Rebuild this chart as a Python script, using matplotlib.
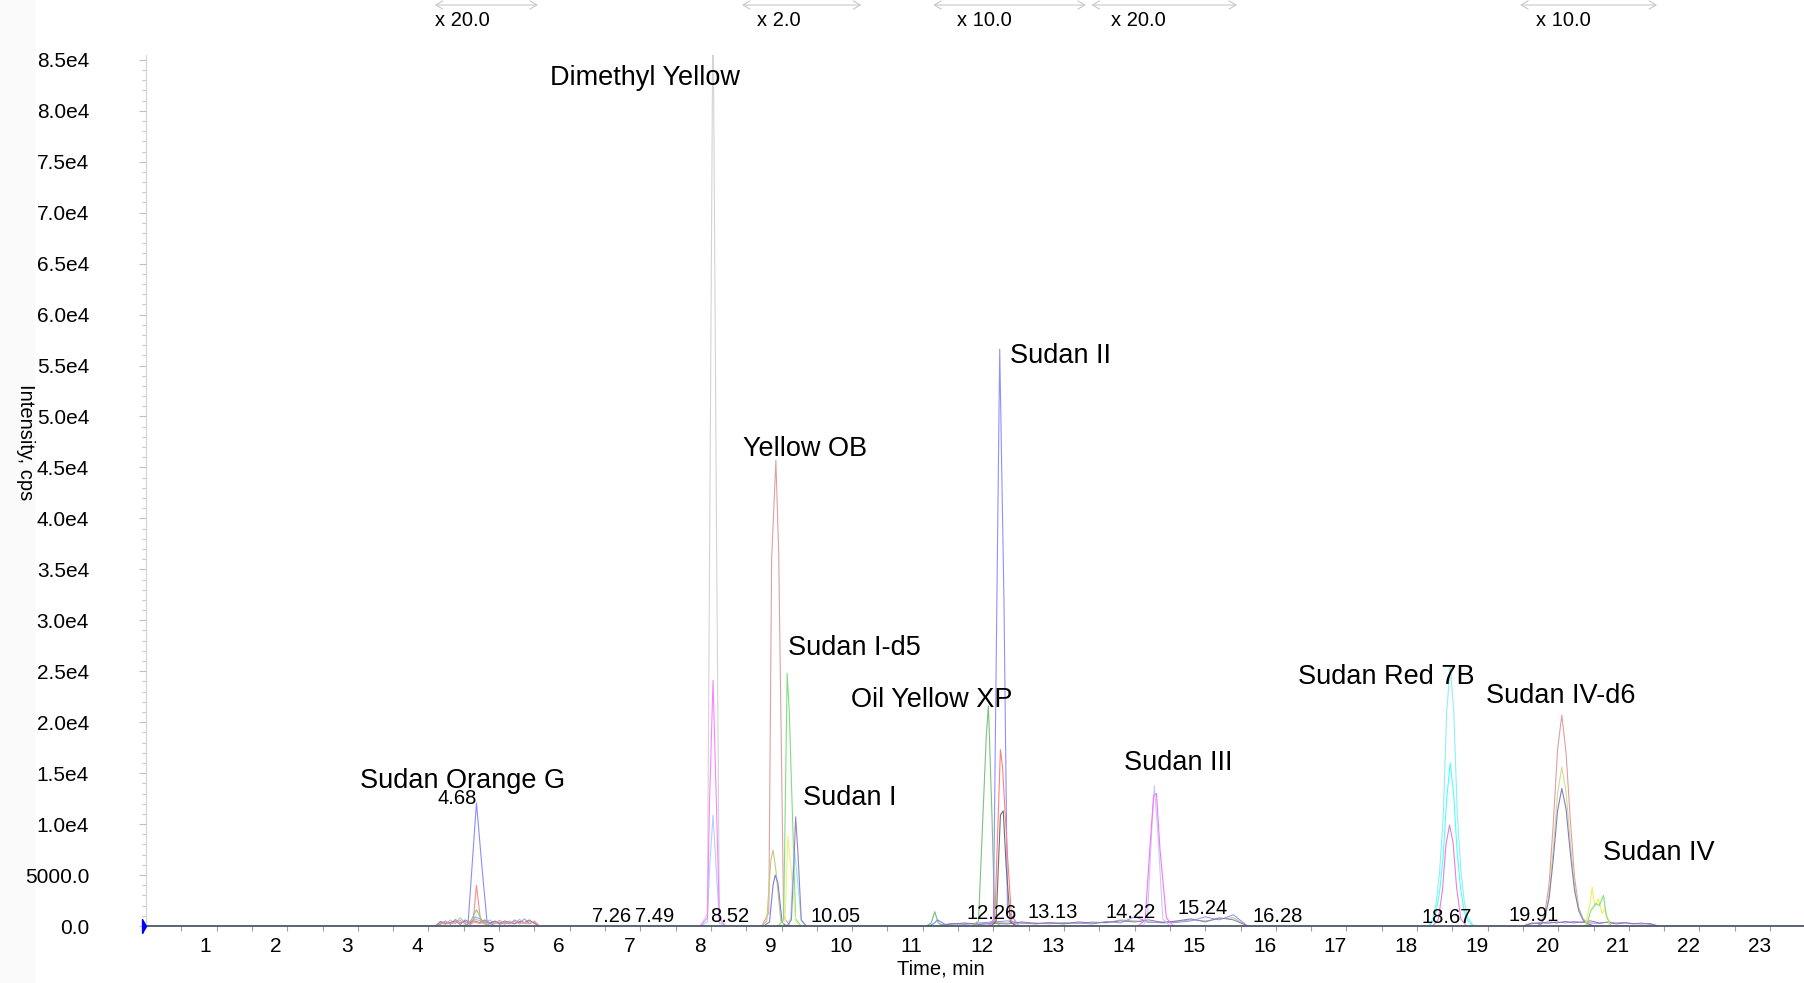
import matplotlib
matplotlib.use("Agg")

import matplotlib.pyplot as plt
from matplotlib.ticker import FixedLocator, FuncFormatter
from matplotlib.transforms import ScaledTranslation
from matplotlib.patches import Rectangle

plt.rcParams['font.family'] = ['Liberation Sans', 'DejaVu Sans']

# -------------------------------
# Peak traces (time in min, intensity in cps)
# -------------------------------
# Sudan Orange G
sog_blue_t = [4.45, 4.56, 4.68, 4.76, 4.83, 4.95]
sog_blue = [0, 150, 12100, 5600, 400, 0]
sog_red_t = [4.55, 4.63, 4.68, 4.74, 4.85]
sog_red = [0, 300, 4000, 400, 0]
sog_green_t = [4.52, 4.60, 4.68, 4.76, 4.88]
sog_green = [0, 500, 1600, 500, 0]

# Dimethyl Yellow
dmy_t = [7.85, 7.95, 7.98, 8.03, 8.08, 8.12, 8.20]
dmy_gray = [0, 1200, 35000, 92000, 38000, 1000, 0]
dmy_pink = [0, 800, 12000, 24100, 11500, 700, 0]
dmy_lblue = [0, 400, 5500, 10900, 5000, 300, 0]

# Yellow OB
yob_rose_t = [8.72, 8.82, 8.86, 8.92, 8.96, 9.03, 9.12]
yob_rose = [0, 1300, 36000, 45700, 36600, 900, 0]
yob_olive_t = [8.72, 8.79, 8.85, 8.88, 8.92, 8.99, 9.06]
yob_olive = [0, 500, 6500, 7450, 5500, 500, 0]
yob_blue_t = [8.75, 8.83, 8.88, 8.91, 8.95, 9.01, 9.08]
yob_blue = [0, 400, 4000, 5000, 4200, 300, 0]

# Sudan I-d5 / Sudan I
sid5_green_t = [8.95, 9.03, 9.08, 9.11, 9.20, 9.28]
sid5_green = [0, 600, 24800, 21000, 700, 0]
sid5_yellow_t = [8.98, 9.05, 9.09, 9.13, 9.20, 9.26]
sid5_yellow = [0, 500, 8800, 6000, 400, 0]
si_purple_t = [9.08, 9.14, 9.18, 9.20, 9.23, 9.28, 9.35]
si_purple = [0, 600, 7000, 10700, 7500, 600, 0]
si_cyan_t = [9.08, 9.13, 9.18, 9.22, 9.28, 9.34]
si_cyan = [0, 800, 7600, 5000, 500, 0]

# small bumps before Oil Yellow XP
bump_green_t = [11.05, 11.12, 11.17, 11.22, 11.30]
bump_green = [0, 300, 1400, 300, 0]
bump_blue_t = [11.08, 11.15, 11.21, 11.28, 11.36]
bump_blue = [0, 200, 600, 300, 0]

# Oil Yellow XP
oyxp_green_t = [11.70, 11.79, 11.90, 11.93, 11.98, 12.02, 12.10]
oyxp_green = [0, 500, 18700, 21600, 10900, 500, 0]

# Sudan II
s2_blue_t = [11.92, 12.00, 12.05, 12.09, 12.15, 12.20, 12.27, 12.36]
s2_blue = [0, 600, 32000, 56600, 32000, 1500, 900, 0]
s2_red_t = [11.95, 12.02, 12.10, 12.13, 12.20, 12.26, 12.33]
s2_red = [0, 600, 17300, 15600, 7000, 500, 0]
s2_dark_t = [11.97, 12.04, 12.10, 12.14, 12.18, 12.24, 12.32]
s2_dark = [0, 500, 10900, 11300, 6000, 400, 0]

# Sudan III
s3_pink_t = [14.05, 14.15, 14.22, 14.27, 14.31, 14.36, 14.45, 14.55]
s3_pink = [0, 600, 8000, 12800, 13000, 7500, 800, 0]
s3_lblue_t = [14.10, 14.18, 14.24, 14.28, 14.33, 14.40, 14.50]
s3_lblue = [0, 500, 9000, 13800, 9000, 700, 0]

# Sudan Red 7B
r7b_t = [18.17, 18.22, 18.27, 18.32, 18.37, 18.42, 18.47, 18.52, 18.57, 18.62, 18.67, 18.72, 18.80]
r7b_cyan = [0, 700, 2200, 5400, 10600, 21000, 25500, 21000, 11000, 5500, 2300, 800, 0]
r7b_lcyan = [0, 400, 1400, 3400, 6800, 12500, 16000, 12800, 7000, 3500, 1400, 500, 0]
r7b_pink_t = [18.22, 18.30, 18.36, 18.41, 18.46, 18.51, 18.56, 18.62, 18.70]
r7b_pink = [0, 600, 3500, 8000, 9900, 8200, 3800, 700, 0]

# Sudan IV-d6
iv6_t = [19.70, 19.75, 19.81, 19.87, 19.93, 19.99, 20.05, 20.11, 20.17, 20.23, 20.29, 20.35, 20.42, 20.50]
iv6_rose = [0, 230, 1200, 4100, 10100, 17300, 20700, 17000, 10500, 4800, 1800, 700, 300, 0]
iv6_olive = [0, 170, 900, 3100, 7600, 13000, 15600, 13200, 8200, 4000, 1600, 700, 300, 0]
iv6_purple = [0, 150, 800, 2700, 6600, 11300, 13500, 11500, 7200, 3500, 1500, 600, 200, 0]

# Sudan IV
s4_yellow_t = [20.38, 20.45, 20.48, 20.52, 20.57, 20.62, 20.66, 20.72]
s4_yellow = [0, 2200, 3800, 1900, 2700, 1200, 1800, 0]
s4_green_t = [20.40, 20.46, 20.53, 20.58, 20.64, 20.68, 20.75]
s4_green = [0, 1500, 2200, 2000, 3000, 1000, 0]

# -------------------------------
# Baseline noise inside the zoomed windows
# -------------------------------
na_t = [4.10, 4.17, 4.24, 4.31, 4.38, 4.45, 4.52, 4.59, 4.66, 4.73, 4.80,
        4.87, 4.94, 5.01, 5.08, 5.15, 5.22, 5.29, 5.36, 5.43, 5.50, 5.57]
na_green = [0, 350, 150, 600, 200, 800, 300, 400, 700, 500, 300,
            600, 200, 400, 150, 500, 250, 650, 200, 450, 300, 0]
na_blue = [0, 200, 500, 150, 650, 300, 450, 200, 900, 700, 400,
           250, 500, 150, 350, 200, 600, 300, 700, 250, 400, 0]
na_purple = [0, 450, 250, 350, 500, 150, 600, 350, 500, 300, 600,
             300, 450, 250, 500, 350, 200, 450, 350, 600, 250, 0]
na_red = [0, 150, 400, 250, 300, 550, 200, 500, 350, 250, 450,
          200, 300, 550, 250, 300, 450, 200, 350, 200, 500, 0]

nb_t = [11.2, 11.4, 11.6, 11.8, 12.0, 12.2, 12.4, 12.6, 12.8, 13.0, 13.2, 13.4,
        13.6, 13.8, 14.0, 14.2, 14.4, 14.6, 14.8, 15.0, 15.2, 15.4, 15.6]
nb_green = [0, 150, 250, 200, 350, 300, 250, 300, 200, 350, 250, 400,
            300, 600, 500, 350, 400, 450, 600, 500, 700, 800, 0]
nb_blue = [0, 250, 150, 300, 400, 500, 300, 200, 350, 250, 300, 200,
           450, 300, 900, 400, 300, 350, 500, 900, 600, 1100, 0]
nb_purple = [0, 200, 300, 150, 250, 200, 400, 250, 300, 200, 400, 300,
             350, 500, 400, 600, 350, 500, 700, 400, 800, 600, 0]

nc_t = [19.50, 19.62, 19.74, 19.86, 19.98, 20.10, 20.22, 20.34, 20.46,
        20.58, 20.70, 20.82, 20.94, 21.06, 21.18, 21.30, 21.42]
nc_blue = [0, 200, 350, 250, 400, 300, 450, 350, 300, 250, 400, 300, 350, 200, 300, 150, 0]
nc_purple = [0, 300, 250, 400, 300, 450, 300, 400, 500, 300, 350, 200, 300, 250, 200, 250, 0]

# -------------------------------
# Labels
# -------------------------------
compound_names = ["Sudan Orange G", "Dimethyl Yellow", "Yellow OB", "Sudan I-d5",
                  "Oil Yellow XP", "Sudan I", "Sudan II", "Sudan III",
                  "Sudan Red 7B", "Sudan IV-d6", "Sudan IV"]
compound_x = [3.03, 5.72, 8.46, 9.09, 9.99, 9.31, 12.24, 13.85, 16.31, 18.97, 20.63]
compound_y = [14200, 83200, 46800, 27300, 22200, 12600, 55900, 16000, 24400, 22600, 7200]

rt_labels = ["4.68", "7.26", "7.49", "8.52", "10.05", "12.26", "13.13",
             "14.22", "15.24", "16.28", "18.67", "19.91"]
rt_x = [4.40, 6.60, 7.21, 8.26, 9.76, 11.98, 12.84, 13.95, 14.96, 16.02, 18.42, 19.65]
rt_y = [12500, 900, 900, 900, 900, 1200, 1300, 1300, 1700, 900, 800, 1000]

zoom_text = ["x 20.0", "x 2.0", "x 10.0", "x 20.0", "x 10.0"]
zoom_start = [4.09, 8.44, 11.15, 13.39, 19.46]
zoom_end = [5.55, 10.13, 13.31, 15.45, 21.40]
zoom_text_x = [4.09, 8.65, 11.49, 13.67, 19.69]

# -------------------------------
# Plot
# -------------------------------
fig = plt.figure(figsize=(18.04, 9.83), dpi=100)
fig.patches.append(Rectangle((0, 0), 34 / 1804, 1, transform=fig.transFigure,
                             color="#fafafa", zorder=-1))
ax = fig.add_axes([146 / 1804, 1 - 926 / 983, 1658 / 1804, 871 / 983])

noise = [
    (na_t, na_green, "#90d090"), (na_t, na_blue, "#9090ff"),
    (na_t, na_purple, "#a070a0"), (na_t, na_red, "#ff9090"),
    (nb_t, nb_green, "#90d090"), (nb_t, nb_blue, "#9090ff"),
    (nb_t, nb_purple, "#a070a0"),
    (nc_t, nc_blue, "#9090ff"), (nc_t, nc_purple, "#a070a0"),
]
for t, y, c in noise:
    ax.plot(t, y, color=c, lw=0.7)

traces = [
    (sog_blue_t, sog_blue, "#8c8cff"), (sog_red_t, sog_red, "#ff8c8c"),
    (sog_green_t, sog_green, "#80cc80"),
    (dmy_t, dmy_gray, "#d4d4d4"), (dmy_t, dmy_lblue, "#b0d0ff"),
    (dmy_t, dmy_pink, "#ff80ff"),
    (yob_rose_t, yob_rose, "#e0a0a0"), (yob_olive_t, yob_olive, "#c8c87a"),
    (yob_blue_t, yob_blue, "#8080e0"),
    (sid5_green_t, sid5_green, "#80e080"), (sid5_yellow_t, sid5_yellow, "#f0f080"),
    (si_cyan_t, si_cyan, "#80f0f0"), (si_purple_t, si_purple, "#a080c0"),
    (bump_green_t, bump_green, "#70c070"), (bump_blue_t, bump_blue, "#8080ff"),
    (oyxp_green_t, oyxp_green, "#80c080"),
    (s2_blue_t, s2_blue, "#9090ff"), (s2_red_t, s2_red, "#ff8080"),
    (s2_dark_t, s2_dark, "#707070"),
    (s3_lblue_t, s3_lblue, "#c0d0f0"), (s3_pink_t, s3_pink, "#ff70ff"),
    (r7b_t, r7b_cyan, "#90f0f0"), (r7b_t, r7b_lcyan, "#50ffff"),
    (r7b_pink_t, r7b_pink, "#e080e0"),
    (iv6_t, iv6_rose, "#e0a0a0"), (iv6_t, iv6_olive, "#d8d890"),
    (iv6_t, iv6_purple, "#8080c0"),
    (s4_yellow_t, s4_yellow, "#f0f060"), (s4_green_t, s4_green, "#80e080"),
]
for t, y, c in traces:
    ax.plot(t, y, color=c, lw=0.8)

# start marker
ax.plot([0], [0], marker=[(-0.57, -1), (0, 0), (-0.57, 1), (-0.57, -1)],
        color="#0000ff", markersize=10, clip_on=False, zorder=5)

for name, x, y in zip(compound_names, compound_x, compound_y):
    ax.text(x, y, name, ha="left", va="center", fontsize=19.5)

for lab, x, y in zip(rt_labels, rt_x, rt_y):
    ax.text(x, y, lab, ha="center", va="center", fontsize=14.5)

for lab, x0, x1, xt in zip(zoom_text, zoom_start, zoom_end, zoom_text_x):
    ax.annotate("", xy=(x1, 1 - 5 / 983), xytext=(x0, 1 - 5 / 983),
                xycoords=("data", "figure fraction"),
                textcoords=("data", "figure fraction"),
                arrowprops=dict(arrowstyle="<->,head_length=0.5,head_width=0.3",
                                color="#c8c8c8", lw=0.8, shrinkA=0, shrinkB=0),
                annotation_clip=False)
    ax.annotate(lab, xy=(xt, 1 - 20 / 983), xycoords=("data", "figure fraction"),
                ha="left", va="center", fontsize=14.5, annotation_clip=False)

# -------------------------------
# Axes styling
# -------------------------------
ax.set_xlim(0, 23.48)
ax.set_ylim(0, 85470)
ax.spines["top"].set_visible(False)
ax.spines["right"].set_visible(False)
ax.spines["left"].set_color("#d4d4d4")
ax.spines["bottom"].set_color("#4d5866")
ax.spines["bottom"].set_linewidth(1.3)

ax.xaxis.set_major_locator(FixedLocator(list(range(1, 24))))
ax.xaxis.set_minor_locator(FixedLocator([i + 0.5 for i in range(0, 24)]))
ax.yaxis.set_major_locator(FixedLocator([i * 5000 for i in range(0, 18)]))
ax.yaxis.set_minor_locator(FixedLocator([i * 1000 for i in range(0, 86)]))


def ylab(v, pos):
    if v == 0:
        return "0.0"
    if v < 10000:
        return "%.1f" % v
    return "%.1fe4" % (v / 1e4)


ax.yaxis.set_major_formatter(FuncFormatter(ylab))
ax.tick_params(axis="x", which="both", length=3.6, width=0.8, color="#a0a0a0",
               labelsize=15, pad=4.5)
ax.tick_params(axis="y", which="major", length=5, width=0.8, color="#c0c0c0",
               labelsize=15, pad=36)
ax.tick_params(axis="y", which="minor", length=3, width=0.8, color="#c8c8c8")

shift = ScaledTranslation(-11 / 100, 0, fig.dpi_scale_trans)
for lab in ax.get_xticklabels():
    lab.set_transform(lab.get_transform() + shift)

fig.text(25 / 1804, 1 - 442 / 983, "Intensity, cps", rotation=270,
         ha="center", va="center", fontsize=14.5)
fig.text(941 / 1804, 1 - 969 / 983, "Time, min", ha="center", va="center",
         fontsize=14.5)

fig.savefig("out.png", dpi=100)
